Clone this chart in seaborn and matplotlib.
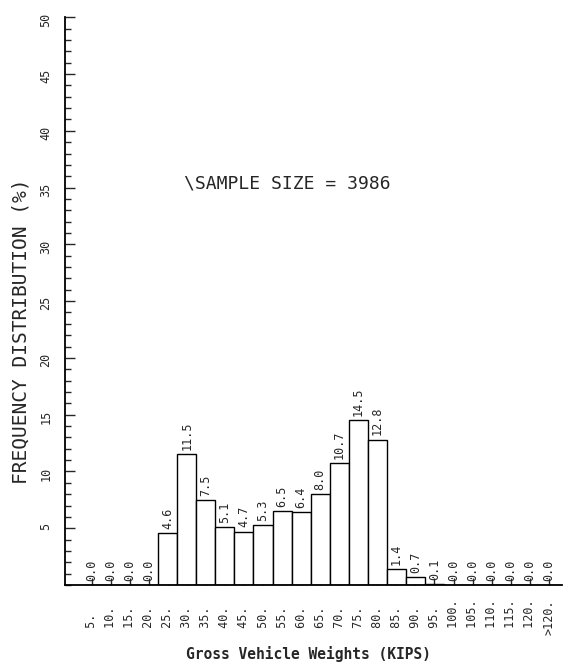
import matplotlib
matplotlib.use("Agg")
import matplotlib.pyplot as plt
import seaborn as sns
import pandas as pd
from matplotlib.ticker import MultipleLocator

# Gross vehicle weight classes (kips) and their frequency share (%)
weights = ["5.", "10.", "15.", "20.", "25.", "30.", "35.", "40.", "45.", "50.",
           "55.", "60.", "65.", "70.", "75.", "80.", "85.", "90.", "95.", "100.",
           "105.", "110.", "115.", "120.", ">120."]
freq = [0.0, 0.0, 0.0, 0.0, 4.6, 11.5, 7.5, 5.1, 4.7, 5.3,
        6.5, 6.4, 8.0, 10.7, 14.5, 12.8, 1.4, 0.7, 0.1, 0.0,
        0.0, 0.0, 0.0, 0.0, 0.0]
sample_text = "\\SAMPLE SIZE = 3986"

sns.set_style("ticks")
plt.rcParams["font.family"] = ["DejaVu Sans Mono"]

df = pd.DataFrame({"weight": weights, "freq": freq})

fig = plt.figure(figsize=(5.63, 6.64), dpi=100)
ax = fig.add_axes([0.1155, 0.119, 0.883, 0.855])

sns.barplot(data=df, x="weight", y="freq", order=weights, color="white",
            saturation=1, edgecolor="black", linewidth=1.0, width=1.0, ax=ax)

ax.bar_label(ax.containers[0], labels=[f"{v:.1f}" for v in freq],
             rotation=90, padding=3, fontsize=8.5)

ax.set_xlim(-1.39, 24.7)
ax.set_ylim(0, 50)
ax.yaxis.set_major_locator(MultipleLocator(5))
ax.yaxis.set_minor_locator(MultipleLocator(1))
ax.set_yticks(range(5, 51, 5))

# leading pad so digits line up and ">" hangs below, like the plotter output
shown = [w if w.startswith(">") else " " + w for w in weights]
ax.set_xticks(range(len(weights)))
ax.set_xticklabels(shown, rotation=90, va="bottom", fontsize=8.5)

ax.tick_params(axis="x", direction="in", length=5, width=1, pad=36)
ax.tick_params(axis="y", which="major", direction="in", length=7, width=1,
               labelrotation=90, labelsize=8.5, pad=9)
ax.tick_params(axis="y", which="minor", direction="in", length=4, width=1)

sns.despine(ax=ax)
for s in ["left", "bottom"]:
    ax.spines[s].set_linewidth(1.3)
    ax.spines[s].set_color("black")

ax.set_ylabel("FREQUENCY DISTRIBUTION (%)", fontsize=14)
ax.yaxis.set_label_coords(-0.07, 0.447)
ax.set_xlabel("Gross Vehicle Weights (KIPS)", fontsize=10.5, fontweight="bold")
ax.xaxis.set_label_coords(0.49, -0.108)

ax.text(10.3, 35.4, sample_text, ha="center", va="center", fontsize=13)

fig.savefig("out.png", dpi=100)
